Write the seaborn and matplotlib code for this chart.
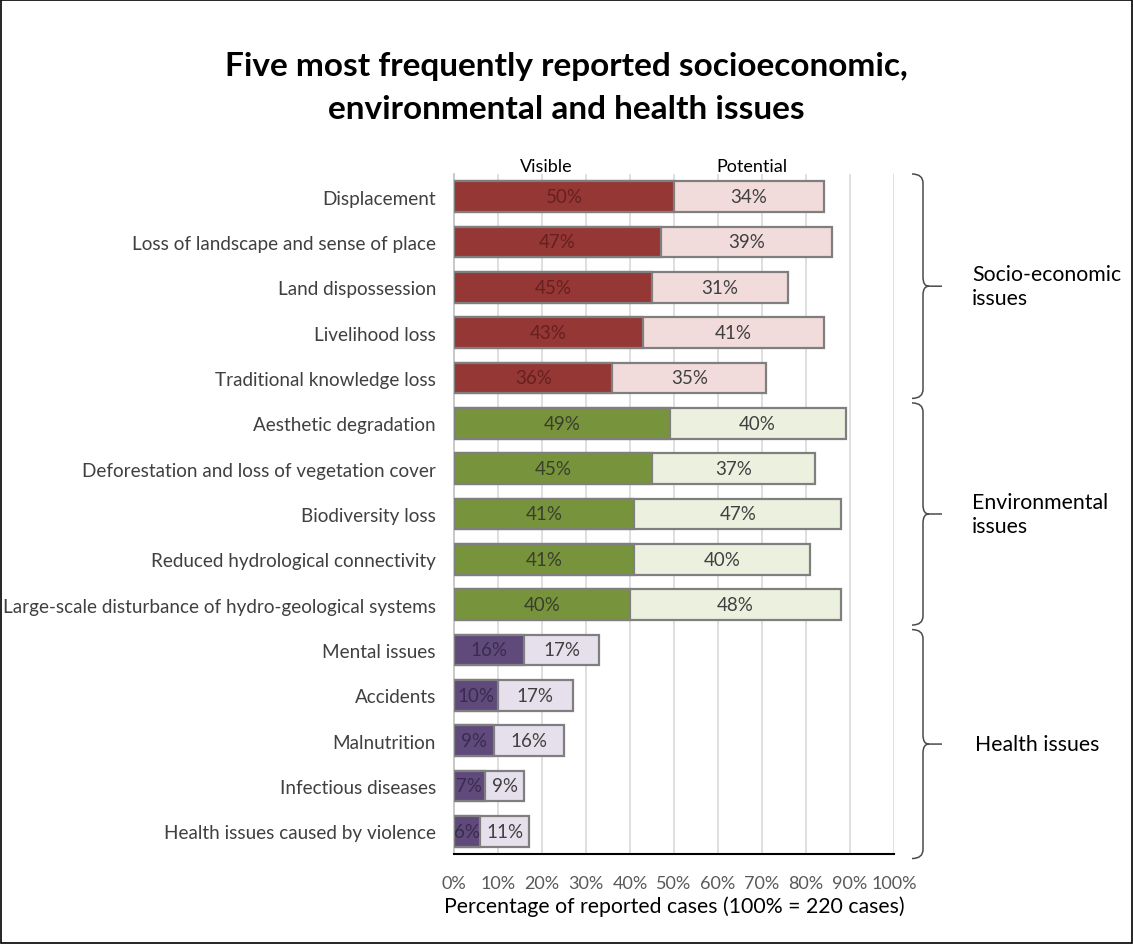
import matplotlib
matplotlib.use("Agg")
import matplotlib.pyplot as plt
import seaborn as sns
import pandas as pd
from matplotlib.patches import Rectangle, PathPatch
from matplotlib.path import Path
import matplotlib.transforms as mtransforms

categories = [
    "Displacement",
    "Loss of landscape and sense of place",
    "Land dispossession",
    "Livelihood loss",
    "Traditional knowledge loss",
    "Aesthetic degradation",
    "Deforestation and loss of vegetation cover",
    "Biodiversity loss",
    "Reduced hydrological connectivity",
    "Large-scale disturbance of hydro-geological systems",
    "Mental issues",
    "Accidents",
    "Malnutrition",
    "Infectious diseases",
    "Health issues caused by violence",
]
visible = [50, 47, 45, 43, 36, 49, 45, 41, 41, 40, 16, 10, 9, 7, 6]
potential = [34, 39, 31, 41, 35, 40, 37, 47, 40, 48, 17, 17, 16, 9, 11]
groups = ["Socio-economic\nissues"] * 5 + ["Environmental\nissues"] * 5 + ["Health issues"] * 5
group_names = ["Socio-economic\nissues", "Environmental\nissues", "Health issues"]
x_ticks = [0, 10, 20, 30, 40, 50, 60, 70, 80, 90, 100]

dark_colors = {"Socio-economic\nissues": "#953735", "Environmental\nissues": "#77933C", "Health issues": "#604A7B"}
light_colors = {"Socio-economic\nissues": "#F2DCDB", "Environmental\nissues": "#EBF1DE", "Health issues": "#E6E0EC"}
vis_text = {"Socio-economic\nissues": "#66201f", "Environmental\nissues": "#3a3f2c", "Health issues": "#3a2b4f"}

df = pd.DataFrame({"category": categories, "visible": visible, "potential": potential, "group": groups})
df["total"] = df["visible"] + df["potential"]

sns.set_theme(style="white")
FONT = ["Lato", "DejaVu Sans"]
plt.rcParams["font.family"] = FONT

fig = plt.figure(figsize=(11.33, 9.45), dpi=100)
ax = fig.add_axes([454 / 1133, 1 - 855 / 945, 440 / 1133, (855 - 175) / 945])

for t in x_ticks[1:]:
    ax.axvline(t, color="#D9D9D9", lw=1.2, zorder=0)

sns.barplot(data=df, y="category", x="total", hue="category", order=categories,
            palette=[light_colors[g] for g in groups], legend=False, width=0.67, saturation=1,
            edgecolor="#7F7F7F", linewidth=1.6, orient="h", ax=ax, zorder=2)
sns.barplot(data=df, y="category", x="visible", hue="category", order=categories,
            palette=[dark_colors[g] for g in groups], legend=False, width=0.67, saturation=1,
            edgecolor="#7F7F7F", linewidth=1.6, orient="h", ax=ax, zorder=3)

for i, row in df.iterrows():
    ax.text(row["visible"] / 2, i, f"{row['visible']}%", ha="center", va="center",
            fontsize=13.5, color=vis_text[row["group"]], zorder=5)
    ax.text(row["visible"] + row["potential"] / 2, i, f"{row['potential']}%", ha="center",
            va="center", fontsize=13.5, color="#404040", zorder=5)

ax.set_xlim(0, 100)
ax.set_ylim(14.5, -0.5)
ax.set_xticks(x_ticks)
ax.set_xticklabels([f"{t}%" for t in x_ticks], color="#595959", fontsize=13)
ax.tick_params(axis="x", direction="in", length=5, width=1.3, color="black", pad=15)
ax.tick_params(axis="y", length=0, pad=13, labelsize=13.6, labelcolor="#404040")
ax.set_ylabel("")
ax.set_xlabel("Percentage of reported cases (100% = 220 cases)", fontsize=15.3, color="black", labelpad=3)
for s in ["top", "right"]:
    ax.spines[s].set_visible(False)
ax.spines["left"].set_color("#BFBFBF")
ax.spines["left"].set_linewidth(1.2)
ax.spines["bottom"].set_color("black")
ax.spines["bottom"].set_linewidth(1.5)

ax.text(0.21, 1.0, "Visible", transform=ax.transAxes, ha="center", va="bottom", fontsize=13, color="black")
ax.text(0.677, 1.0, "Potential", transform=ax.transAxes, ha="center", va="bottom", fontsize=13, color="black")

trans = mtransforms.blended_transform_factory(fig.transFigure, ax.transData)
def brace(y0, y1, xh=912 / 1133, xv=923 / 1133, xt=942 / 1133):
    ym = (y0 + y1) / 2
    r = 0.2
    verts = [(xh, y0), (xv, y0), (xv, y0 + r),
             (xv, ym - r),
             (xv, ym), (xv + (xt - xv) * 0.3, ym), (xt, ym),
             (xv + (xt - xv) * 0.3, ym), (xv, ym), (xv, ym + r),
             (xv, y1 - r),
             (xv, y1), (xh, y1)]
    codes = [Path.MOVETO, Path.CURVE3, Path.CURVE3,
             Path.LINETO,
             Path.CURVE3, Path.CURVE3, Path.LINETO,
             Path.MOVETO, Path.CURVE3, Path.CURVE3,
             Path.LINETO,
             Path.CURVE3, Path.CURVE3]
    fig.add_artist(PathPatch(Path(verts, codes), transform=trans, fill=False,
                             edgecolor="#4a4a4a", lw=1.1, clip_on=False))

brace_spans = [(-0.5, 4.45), (4.55, 9.45), (9.55, 14.6)]
label_x = [972 / 1133, 972 / 1133, 975 / 1133]
for (y0, y1), name, lx in zip(brace_spans, group_names, label_x):
    brace(y0, y1)
    t = fig.text(lx, (y0 + y1) / 2, name, ha="left", va="center", fontsize=15.3,
                 color="black", linespacing=1.25)
    t.set_transform(trans)

fig.suptitle("Five most frequently reported socioeconomic,\nenvironmental and health issues",
             x=0.5, y=1 - 52 / 945, va="top", fontsize=24, fontweight="bold",
             linespacing=1.6, color="black")

fig.add_artist(Rectangle((0.001, 0.001), 0.998, 0.998, transform=fig.transFigure, fill=False,
                         edgecolor="black", lw=1.2))

fig.savefig("out.png", dpi=100)
